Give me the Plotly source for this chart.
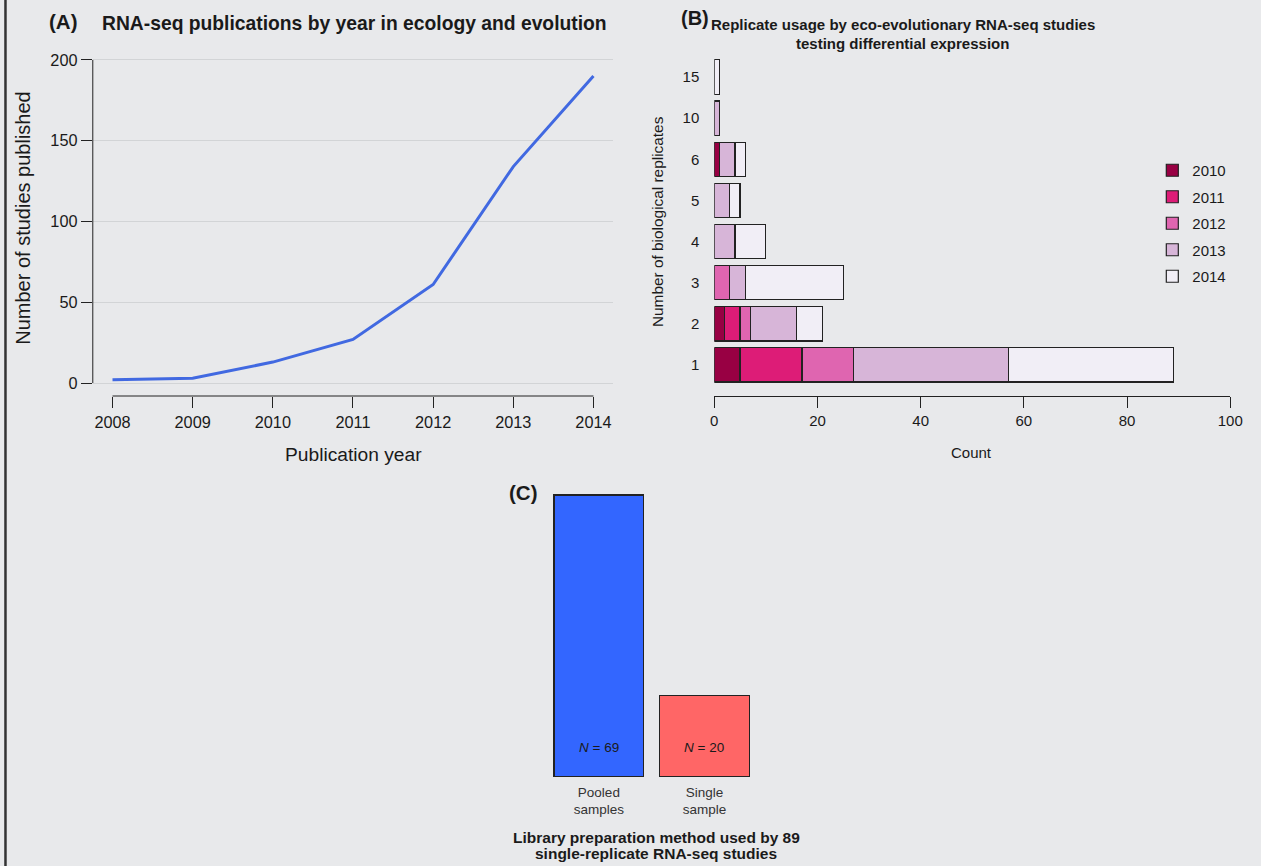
import plotly.graph_objects as go

W, H = 1261, 866

# ---------------- data ----------------
years = [2008, 2009, 2010, 2011, 2012, 2013, 2014]
publications = [2, 3, 13, 27, 61, 134, 190]

replicate_cats = ["1", "2", "3", "4", "5", "6", "10", "15"]
rep_2010 = [5, 2, 0, 0, 0, 1, 0, 0]
rep_2011 = [12, 3, 0, 0, 0, 0, 0, 0]
rep_2012 = [10, 2, 3, 0, 0, 0, 0, 0]
rep_2013 = [30, 9, 3, 4, 3, 3, 1, 0]
rep_2014 = [32, 5, 19, 6, 2, 2, 0, 1]
rep_years = ["2010", "2011", "2012", "2013", "2014"]
rep_colors = ["#980043", "#dd1c77", "#df65b0", "#d7b5d8", "#f1eef6"]

lib_methods = ["Pooled<br>samples", "Single<br>sample"]
lib_counts = [69, 20]
lib_colors = ["#3366FF", "#FF6666"]

FONT = "Liberation Sans, Arial, Helvetica, sans-serif"
TXT = "#1a1a1a"
BG = "#e8e9eb"


def px(xp):
    return xp / W


def py(yp):
    return 1 - yp / H


fig = go.Figure()

# ---------------- Panel A ----------------
fig.add_trace(go.Scatter(x=years, y=publications, mode="lines",
                         line=dict(color="#4169E1", width=3),
                         xaxis="x", yaxis="y", showlegend=False))

# ---------------- Panel B ----------------
for yr, vals, col in zip(rep_years, [rep_2010, rep_2011, rep_2012, rep_2013, rep_2014], rep_colors):
    fig.add_trace(go.Bar(
        y=replicate_cats, x=[v if v else None for v in vals], orientation="h",
        name=yr, legendgroup=yr, width=0.833,
        marker=dict(color=col, line=dict(color="#222222", width=1.2)),
        xaxis="x2", yaxis="y2"))

# ---------------- Panel C ----------------
fig.add_trace(go.Bar(x=lib_methods, y=lib_counts, width=0.85,
                     marker=dict(color=lib_colors, line=dict(color="#222222", width=1.2)),
                     xaxis="x3", yaxis="y3", showlegend=False))

annotations = []
for m, c in zip(lib_methods, lib_counts):
    annotations.append(dict(x=m, y=0, xref="x3", yref="y3", yanchor="bottom", yshift=20,
                            text=f"<i>N</i> = {c}", showarrow=False,
                            font=dict(size=13.5, color=TXT, family=FONT)))


def txt(x, y, text, size, bold=False, angle=0, xanchor="center"):
    if bold:
        text = f"<b>{text}</b>"
    annotations.append(dict(x=px(x), y=py(y), xref="paper", yref="paper", text=text,
                            showarrow=False, textangle=angle, xanchor=xanchor, yanchor="middle",
                            font=dict(size=size, color=TXT, family=FONT)))


txt(60, 22, "(A)", 20.5, bold=True)
txt(355, 23, "RNA-seq publications by year in ecology and evolution", 19.3, bold=True)
txt(354, 454, "Publication year", 19.2)
txt(19, 218, "Number of studies published", 20, angle=-90)

txt(700, 18, "(B)", 20, bold=True)
txt(911, 24, "Replicate usage by eco-evolutionary RNA-seq studies", 15, bold=True)
txt(911, 44, "testing differential expression", 15, bold=True)
txt(981, 452, "Count", 15)
txt(662, 222, "Number of biological replicates", 15.4, angle=-90)

txt(526, 492, "(C)", 20.5, bold=True)
txt(661, 837, "Library preparation method used by 89", 15.5, bold=True)
txt(661, 853, "single-replicate RNA-seq studies", 15.5, bold=True)

axis_common = dict(showgrid=False, zeroline=False, ticks="outside", ticklen=11, tickwidth=1,
                   tickcolor="#222222", tickfont=dict(size=16.3, color=TXT, family=FONT))

# Panel A axes
xa_left, xa_right = 90, 617.5
ya_top, ya_bot = 47, 396
fig.update_layout(
    xaxis=dict(domain=[px(xa_left), px(xa_right)], range=[2007.754, 2014.246],
               tickvals=years, anchor="y", showline=False, **axis_common),
    yaxis=dict(domain=[py(ya_bot), py(ya_top)], range=[-8, 208], anchor="x",
               tickvals=[0, 50, 100, 150, 200], showline=False,
               **{**axis_common, "showgrid": True}, gridcolor="#d2d4d6", gridwidth=1),
)

# Panel B axes
xb_left, xb_right = 720, 1243
yb_top, yb_bot = 40, 396
fig.update_layout(
    xaxis2=dict(domain=[px(xb_left), px(xb_right)], range=[0, 100], anchor="y2",
                tickvals=[0, 20, 40, 60, 80, 100], showline=True, linecolor="#222222", linewidth=1,
                **{**axis_common, "tickfont": dict(size=15, color=TXT, family=FONT)}),
    yaxis2=dict(domain=[py(yb_bot), py(yb_top)], range=[-0.755, 7.9], anchor="x2",
                type="category", categoryorder="array", categoryarray=replicate_cats,
                showline=False, showgrid=False, zeroline=False, ticks="",
                ticklabelstandoff=14, tickfont=dict(size=15, color=TXT, family=FONT)),
    barmode="stack",
)

# Panel C axes (bars centred at px 603 and 710, 107 px apart)
xc_left, xc_right = 603 - 0.6 * 107, 603 + 1.6 * 107
yc_bot = 777
yc_top = 777 - 72 * (282 / 69)
fig.update_layout(
    xaxis3=dict(domain=[px(xc_left), px(xc_right)], range=[-0.6, 1.6], anchor="y3",
                type="category", showline=False, showgrid=False, zeroline=False, ticks="",
                ticklabelstandoff=5, tickfont=dict(size=13.5, color="#333333", family=FONT)),
    yaxis3=dict(domain=[py(yc_bot), py(yc_top)], range=[0, 72], anchor="x3",
                visible=False),
)

shapes = [
    # detached R-style axis lines for panel A
    dict(type="line", xref="x domain", yref="y", x0=0, x1=0, y0=0, y1=200,
         line=dict(color="#222222", width=1)),
    dict(type="line", xref="x", yref="y domain", x0=2008, x1=2014, y0=0, y1=0,
         line=dict(color="#222222", width=1)),
    # left border of figure
    dict(type="line", xref="paper", yref="paper", x0=1.5 / W, x1=1.5 / W, y0=0, y1=1,
         line=dict(color="#333333", width=2.5)),
]

fig.update_layout(
    width=W, height=H, margin=dict(l=0, r=0, t=0, b=0),
    paper_bgcolor=BG, plot_bgcolor=BG,
    font=dict(family=FONT, color=TXT),
    annotations=annotations, shapes=shapes,
    legend=dict(x=px(1164), y=py(154), xanchor="left", yanchor="top",
                traceorder="grouped", tracegroupgap=4, bgcolor="rgba(0,0,0,0)",
                font=dict(size=15, color=TXT, family=FONT)),
)

fig.write_html("out.html", config={"responsive": False})
